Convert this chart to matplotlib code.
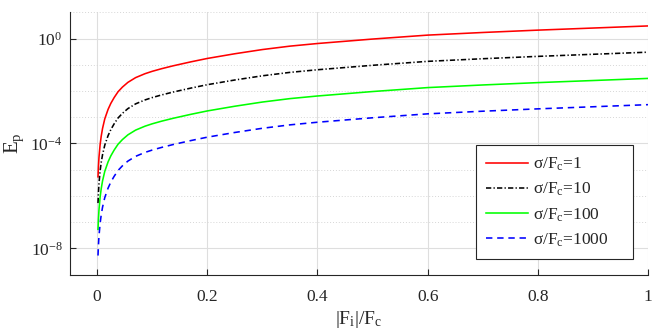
import matplotlib
matplotlib.use("Agg")
import matplotlib.pyplot as plt
from matplotlib.ticker import FixedLocator, FixedFormatter, NullFormatter

plt.rcParams['font.family'] = ['Liberation Serif', 'DejaVu Serif']
plt.rcParams['mathtext.fontset'] = 'custom'
plt.rcParams['mathtext.rm'] = 'Liberation Serif'
plt.rcParams['mathtext.it'] = 'Liberation Serif:italic'
plt.rcParams['mathtext.default'] = 'regular'

# |Fi|/Fc sample points
x = [0.0017, 0.0025, 0.0035, 0.0055, 0.0075, 0.01, 0.014, 0.02, 0.025, 0.031,
     0.038, 0.046, 0.056, 0.07, 0.087, 0.1, 0.117, 0.138, 0.17, 0.2,
     0.25, 0.3, 0.35, 0.4, 0.5, 0.6, 0.7, 0.8, 0.9, 1.0]

# Ep for sigma/Fc = 1, 10, 100, 1000
ep_1 = [5.37e-6, 1.33e-5, 3.02e-5, 8.91e-5, 1.88e-4, 3.80e-4, 8.71e-4, 2.00e-3, 3.39e-3, 5.62e-3,
        9.33e-3, 1.41e-2, 2.14e-2, 3.24e-2, 4.57e-2, 5.62e-2, 7.08e-2, 9.12e-2, 0.129, 0.174,
        0.263, 0.380, 0.513, 0.646, 0.955, 1.35, 1.70, 2.09, 2.51, 3.02]
ep_10 = [5.37e-7, 1.33e-6, 3.02e-6, 8.91e-6, 1.88e-5, 3.80e-5, 8.71e-5, 2.00e-4, 3.39e-4, 5.62e-4,
         9.33e-4, 1.41e-3, 2.14e-3, 3.24e-3, 4.57e-3, 5.62e-3, 7.08e-3, 9.12e-3, 0.0129, 0.0174,
         0.0263, 0.0380, 0.0513, 0.0646, 0.0955, 0.135, 0.170, 0.209, 0.251, 0.302]
ep_100 = [5.37e-8, 1.33e-7, 3.02e-7, 8.91e-7, 1.88e-6, 3.80e-6, 8.71e-6, 2.00e-5, 3.39e-5, 5.62e-5,
          9.33e-5, 1.41e-4, 2.14e-4, 3.24e-4, 4.57e-4, 5.62e-4, 7.08e-4, 9.12e-4, 1.29e-3, 1.74e-3,
          2.63e-3, 3.80e-3, 5.13e-3, 6.46e-3, 9.55e-3, 0.0135, 0.0170, 0.0209, 0.0251, 0.0302]
ep_1000 = [5.37e-9, 1.33e-8, 3.02e-8, 8.91e-8, 1.88e-7, 3.80e-7, 8.71e-7, 2.00e-6, 3.39e-6, 5.62e-6,
           9.33e-6, 1.41e-5, 2.14e-5, 3.24e-5, 4.57e-5, 5.62e-5, 7.08e-5, 9.12e-5, 1.29e-4, 1.74e-4,
           2.63e-4, 3.80e-4, 5.13e-4, 6.46e-4, 9.55e-4, 1.35e-3, 1.70e-3, 2.09e-3, 2.51e-3, 3.02e-3]

labels = ['σ/F$_c$=1', 'σ/F$_c$=10', 'σ/F$_c$=100', 'σ/F$_c$=1000']

xticks = [0, 0.2, 0.4, 0.6, 0.8, 1.0]
xticklabels = ['0', '0.2', '0.4', '0.6', '0.8', '1']
yticks = [1e-8, 1e-4, 1e0]
yticklabels = ['$10^{-8}$', '$10^{-4}$', '$10^{0}$']
yminor = [1e-9, 1e-7, 1e-6, 1e-5, 1e-3, 1e-2, 1e-1, 1e1]

fig = plt.figure(figsize=(6.64, 3.35), dpi=100)
ax = fig.add_axes([0.1047, 0.180, 0.8712, 0.7833])

lw = 1.15
ax.plot(x, ep_1, color=(1, 0, 0), lw=lw, label=labels[0])
ax.plot(x, ep_10, color='black', lw=lw, linestyle=(0, (3.3, 1.4, 0.8, 1.4)), label=labels[1])
ax.plot(x, ep_100, color=(0, 1, 0), lw=lw, label=labels[2])
ax.plot(x, ep_1000, color=(0, 0, 1), lw=lw, linestyle=(0, (4, 3)), label=labels[3])

ax.set_yscale('log')
ax.set_xlim(-0.05, 1.0)
ax.set_ylim(1e-9, 1e1)

ax.xaxis.set_major_locator(FixedLocator(xticks))
ax.xaxis.set_major_formatter(FixedFormatter(xticklabels))
ax.yaxis.set_major_locator(FixedLocator(yticks))
ax.yaxis.set_major_formatter(FixedFormatter(yticklabels))
ax.yaxis.set_minor_locator(FixedLocator(yminor))
ax.yaxis.set_minor_formatter(NullFormatter())
ax.xaxis.set_minor_locator(FixedLocator([]))

axcol = (0.15, 0.15, 0.15)
ax.grid(True, which='major', color=(0.87, 0.87, 0.87), linestyle='-', linewidth=0.8)
ax.grid(True, which='minor', axis='y', color=(0.84, 0.84, 0.84), linestyle=(0, (1, 2)), linewidth=0.7)
ax.set_axisbelow(True)

for s in ['top', 'right']:
    ax.spines[s].set_visible(False)
for s in ['left', 'bottom']:
    ax.spines[s].set_color(axcol)
    ax.spines[s].set_linewidth(0.8)

ax.tick_params(which='major', direction='in', length=4.5, width=0.8, color=axcol,
               labelcolor=axcol, labelsize=12.5)
ax.tick_params(axis='x', which='major', pad=10)
ax.tick_params(axis='y', which='major', pad=5)
ax.tick_params(which='minor', length=0)

ax.set_xlabel('|F$_i$|/F$_c$', fontsize=14, color=axcol, labelpad=3)
ax.set_ylabel('E$_p$', fontsize=15, color=axcol, labelpad=3)

leg = ax.legend(loc='lower left', bbox_to_anchor=(0.7022, 0.0587, 0.2724, 0.442), mode='expand',
                borderaxespad=0, fontsize=12.5, handlelength=2.4, handletextpad=0.3,
                labelspacing=0.45, fancybox=False, framealpha=1, edgecolor=axcol, borderpad=0.6)
leg.get_frame().set_linewidth(0.8)
for t in leg.get_texts():
    t.set_color(axcol)

fig.savefig('out.png', dpi=100)
